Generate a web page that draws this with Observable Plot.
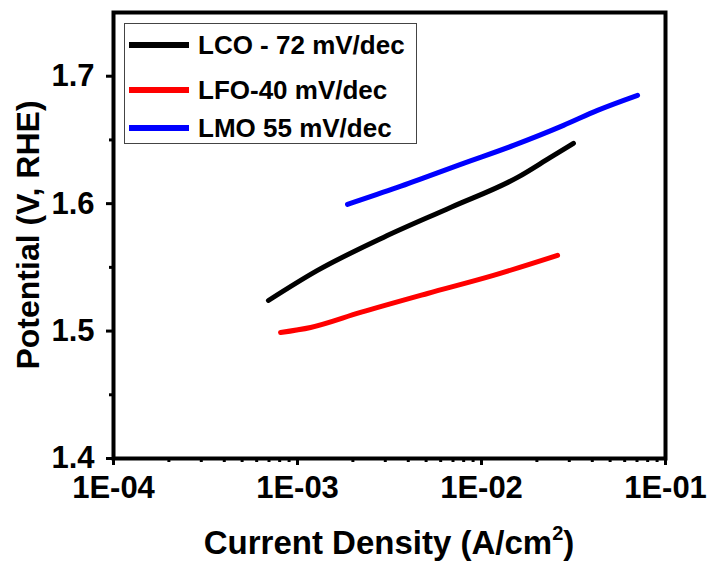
<!DOCTYPE html>
<html>
<head>
<meta charset="utf-8">
<script src="https://cdn.jsdelivr.net/npm/d3@7"></script>
<script src="https://cdn.jsdelivr.net/npm/@observablehq/plot@0.6"></script>
<style>
  body { margin: 0; background: #fff; }
  #wrap { position: relative; width: 709px; height: 562px; font-family: "Liberation Sans", Arial, sans-serif; font-weight: bold; color: #000; }
  .legend { position: absolute; left: 124px; top: 23px; width: 293px; height: 121px; border: 1px solid #444; box-sizing: border-box; background: #fff; }
  .item { position: absolute; left: 0; height: 30px; display: flex; align-items: center; font-size: 26px; white-space: nowrap; }
  .sw { width: 60px; height: 6px; margin-left: 4px; margin-right: 9px; }
  .ytitle { position: absolute; left: 28px; top: 235px; transform: translate(-50%, -50%) rotate(-90deg); font-size: 32px; white-space: nowrap; }
  .xtitle { position: absolute; left: 389px; top: 543px; transform: translate(-50%, -50%); font-size: 33px; white-space: nowrap; }
  .xtitle sup { font-size: 20px; vertical-align: 14px; line-height: 0; }
</style>
</head>
<body>
<div id="wrap"></div>
<script>
// Series data
const seriesNames = ["LCO - 72 mV/dec", "LFO-40 mV/dec", "LMO 55 mV/dec"];
const seriesColors = ["#000000", "#ff0000", "#0000ff"];

const lcoX = [6.95e-4, 1.285e-3, 2.93e-3, 6.79e-3, 1.57e-2, 2.37e-2, 3.16e-2];
const lcoY = [1.524, 1.5476, 1.5735, 1.597, 1.6206, 1.6363, 1.6473];

const lfoX = [8.09e-4, 1.178e-3, 2.2e-3, 5.09e-3, 1.161e-2, 2.59e-2];
const lfoY = [1.4989, 1.5028, 1.5146, 1.5295, 1.5437, 1.5594];

const lmoX = [1.87e-3, 3.49e-3, 7.98e-3, 1.493e-2, 2.79e-2, 4.27e-2, 7.05e-2];
const lmoY = [1.5994, 1.6127, 1.6316, 1.6457, 1.6614, 1.6732, 1.685];

const xMajor = [1e-4, 1e-3, 1e-2, 1e-1];
const xMinor = [2,3,4,5,6,7,8,9].flatMap(m => [m*1e-4, m*1e-3, m*1e-2]);
const yMajor = [1.4, 1.5, 1.6, 1.7];
const yMinor = [1.45, 1.55, 1.65];

const toRows = (xs, ys, name) => xs.map((x, i) => ({x, y: ys[i], name}));
const rows = [
  ...toRows(lcoX, lcoY, seriesNames[0]),
  ...toRows(lfoX, lfoY, seriesNames[1]),
  ...toRows(lmoX, lmoY, seriesNames[2])
];

const fmt = d => "1E-" + String(-Math.round(Math.log10(d))).padStart(2, "0");

const chart = Plot.plot({
  width: 709,
  height: 562,
  marginLeft: 113,
  marginRight: 44,
  marginTop: 12,
  marginBottom: 104,
  style: { fontFamily: "'Liberation Sans', Arial, sans-serif", fontWeight: "bold", fontSize: "31px", color: "#000", background: "#fff", overflow: "visible" },
  x: { type: "log", domain: [1e-4, 1e-1] },
  y: { domain: [1.4, 1.75] },
  color: { domain: seriesNames, range: seriesColors },
  marks: [
    Plot.axisX({ ticks: xMinor, tickSize: 4, tickFormat: () => "", strokeWidth: 3, label: null }),
    Plot.axisX({ ticks: xMajor, tickSize: 7, tickPadding: 10, tickFormat: fmt, strokeWidth: 3, label: null, fontSize: 31 }),
    Plot.axisY({ ticks: yMinor, tickSize: 4, tickFormat: () => "", strokeWidth: 3, label: null }),
    Plot.axisY({ ticks: yMajor, tickSize: 7, tickPadding: 12, tickFormat: d => d.toFixed(1), strokeWidth: 3, label: null, fontSize: 31 }),
    Plot.line(rows, { x: "x", y: "y", z: "name", stroke: "name", strokeWidth: 5, curve: "monotone-x" }),
    Plot.frame({ stroke: "#000", strokeWidth: 4 })
  ]
});

const wrap = document.getElementById("wrap");
wrap.appendChild(chart);

// Legend (inside the plot, top-left)
const legend = document.createElement("div");
legend.className = "legend";
const tops = [6, 51, 89];
seriesNames.forEach((n, i) => {
  const it = document.createElement("div");
  it.className = "item";
  it.style.top = tops[i] + "px";
  it.innerHTML = `<span class="sw" style="background:${seriesColors[i]}"></span><span>${n}</span>`;
  legend.appendChild(it);
});
wrap.appendChild(legend);

const yt = document.createElement("div");
yt.className = "ytitle";
yt.textContent = "Potential (V, RHE)";
wrap.appendChild(yt);

const xt = document.createElement("div");
xt.className = "xtitle";
xt.innerHTML = "Current Density (A/cm<sup>2</sup>)";
wrap.appendChild(xt);
</script>
</body>
</html>
